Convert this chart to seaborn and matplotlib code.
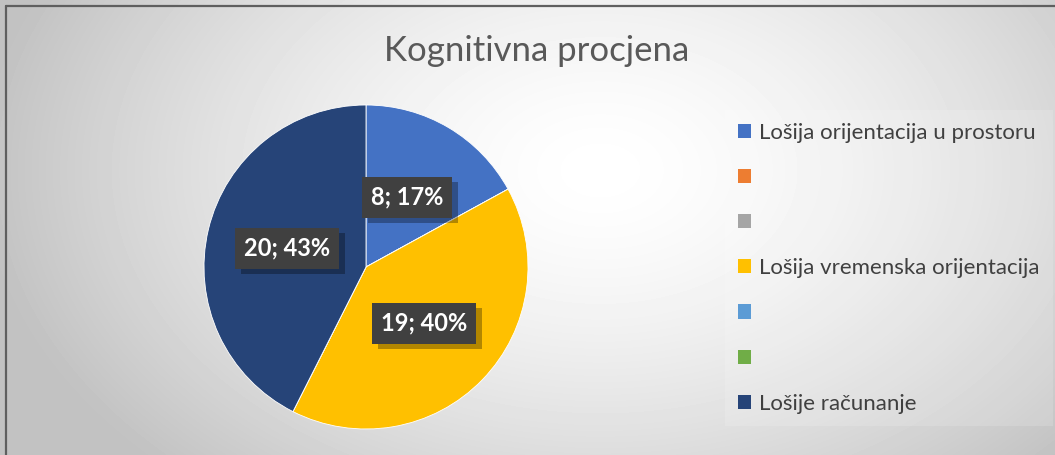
#!/usr/bin/env python3
"""Pie chart: Kognitivna procjena (cognitive assessment)."""

import matplotlib
matplotlib.use('Agg')
import matplotlib.pyplot as plt
import matplotlib.patheffects as pe
from matplotlib.patches import Patch
from matplotlib.lines import Line2D
import numpy as np
import seaborn as sns

# Data
categories = ['Lošija orijentacija u prostoru', '', '',
              'Lošija vremenska orijentacija', '', '', 'Lošije računanje']
counts = [8, 0, 0, 19, 0, 0, 20]
colors = ['#4472C4', '#ED7D31', '#A5A5A5', '#FFC000',
          '#5B9BD5', '#70AD47', '#264478']
title = 'Kognitivna procjena'

sns.set_theme(style='white')
plt.rcParams['font.family'] = ['Lato', 'DejaVu Sans']

W, H = 1055, 455
fig = plt.figure(figsize=(W / 100, H / 100), dpi=100)

# Background: soft radial gradient (white centre, grey edges)
bg = fig.add_axes([0, 0, 1, 1])
yy, xx = np.mgrid[0:H, 0:W]
d = np.sqrt(((xx - 600) / 620.0) ** 2 + ((yy - 170) / 420.0) ** 2)
shade = 1.0 - 0.24 * np.clip(d, 0, 1) ** 1.5
bg.imshow(shade, cmap='gray', vmin=0, vmax=1, aspect='auto',
          extent=[0, 1, 0, 1], origin='upper')
bg.set_axis_off()

# Frame lines (top and left)
fig.add_artist(Line2D([6 / W, 1], [1 - 6 / H, 1 - 6 / H],
                      color='#5f5f5f', lw=1.6, transform=fig.transFigure))
fig.add_artist(Line2D([6 / W, 6 / W], [0, 1 - 6 / H],
                      color='#5f5f5f', lw=1.6, transform=fig.transFigure))

# Pie axes: centre (366, 267) px, radius 162 px, limits +-1.25
cx, cy, r = 366, 267, 162
half = r * 1.25
ax = fig.add_axes([(cx - half) / W, (H - cy - half) / H,
                   2 * half / W, 2 * half / H])
wedges, _ = ax.pie(counts, colors=colors, startangle=90, counterclock=False,
                   wedgeprops=dict(linewidth=0.6, edgecolor='white'))
ax.set_xlim(-1.25, 1.25)
ax.set_ylim(-1.25, 1.25)
ax.set_aspect('equal')

total = sum(counts)
for w, v in zip(wedges, counts):
    if v == 0:
        continue
    mid = np.deg2rad((w.theta1 + w.theta2) / 2)
    x, y = 0.5 * np.cos(mid), 0.5 * np.sin(mid)
    t = ax.text(x, y, f'{v}; {v / total * 100:.0f}%', ha='center',
                va='center', fontsize=17, fontweight='bold', color='white',
                bbox=dict(boxstyle='square,pad=0.38', linewidth=0,
                          facecolor='#404040'))
    t.get_bbox_patch().set_path_effects(
        [pe.SimplePatchShadow(offset=(4, -4), shadow_rgbFace='black',
                              alpha=0.3), pe.Normal()])

fig.text(537 / W, 1 - 51 / H, title, ha='center', va='center',
         fontsize=25, color='#595959')

handles = [Patch(facecolor=c, edgecolor='none') for c in colors]
leg = fig.legend(handles, categories, loc='upper left',
                 bbox_to_anchor=(725 / W, 1 - 110 / H),
                 frameon=True, fancybox=False, fontsize=16,
                 labelcolor='#404040', handlelength=0.6, handleheight=0.6,
                 handletextpad=0.36, labelspacing=1.13, borderpad=0.58,
                 borderaxespad=0, framealpha=0.15, facecolor='white',
                 edgecolor='none')

fig.savefig('out.png', dpi=100)
